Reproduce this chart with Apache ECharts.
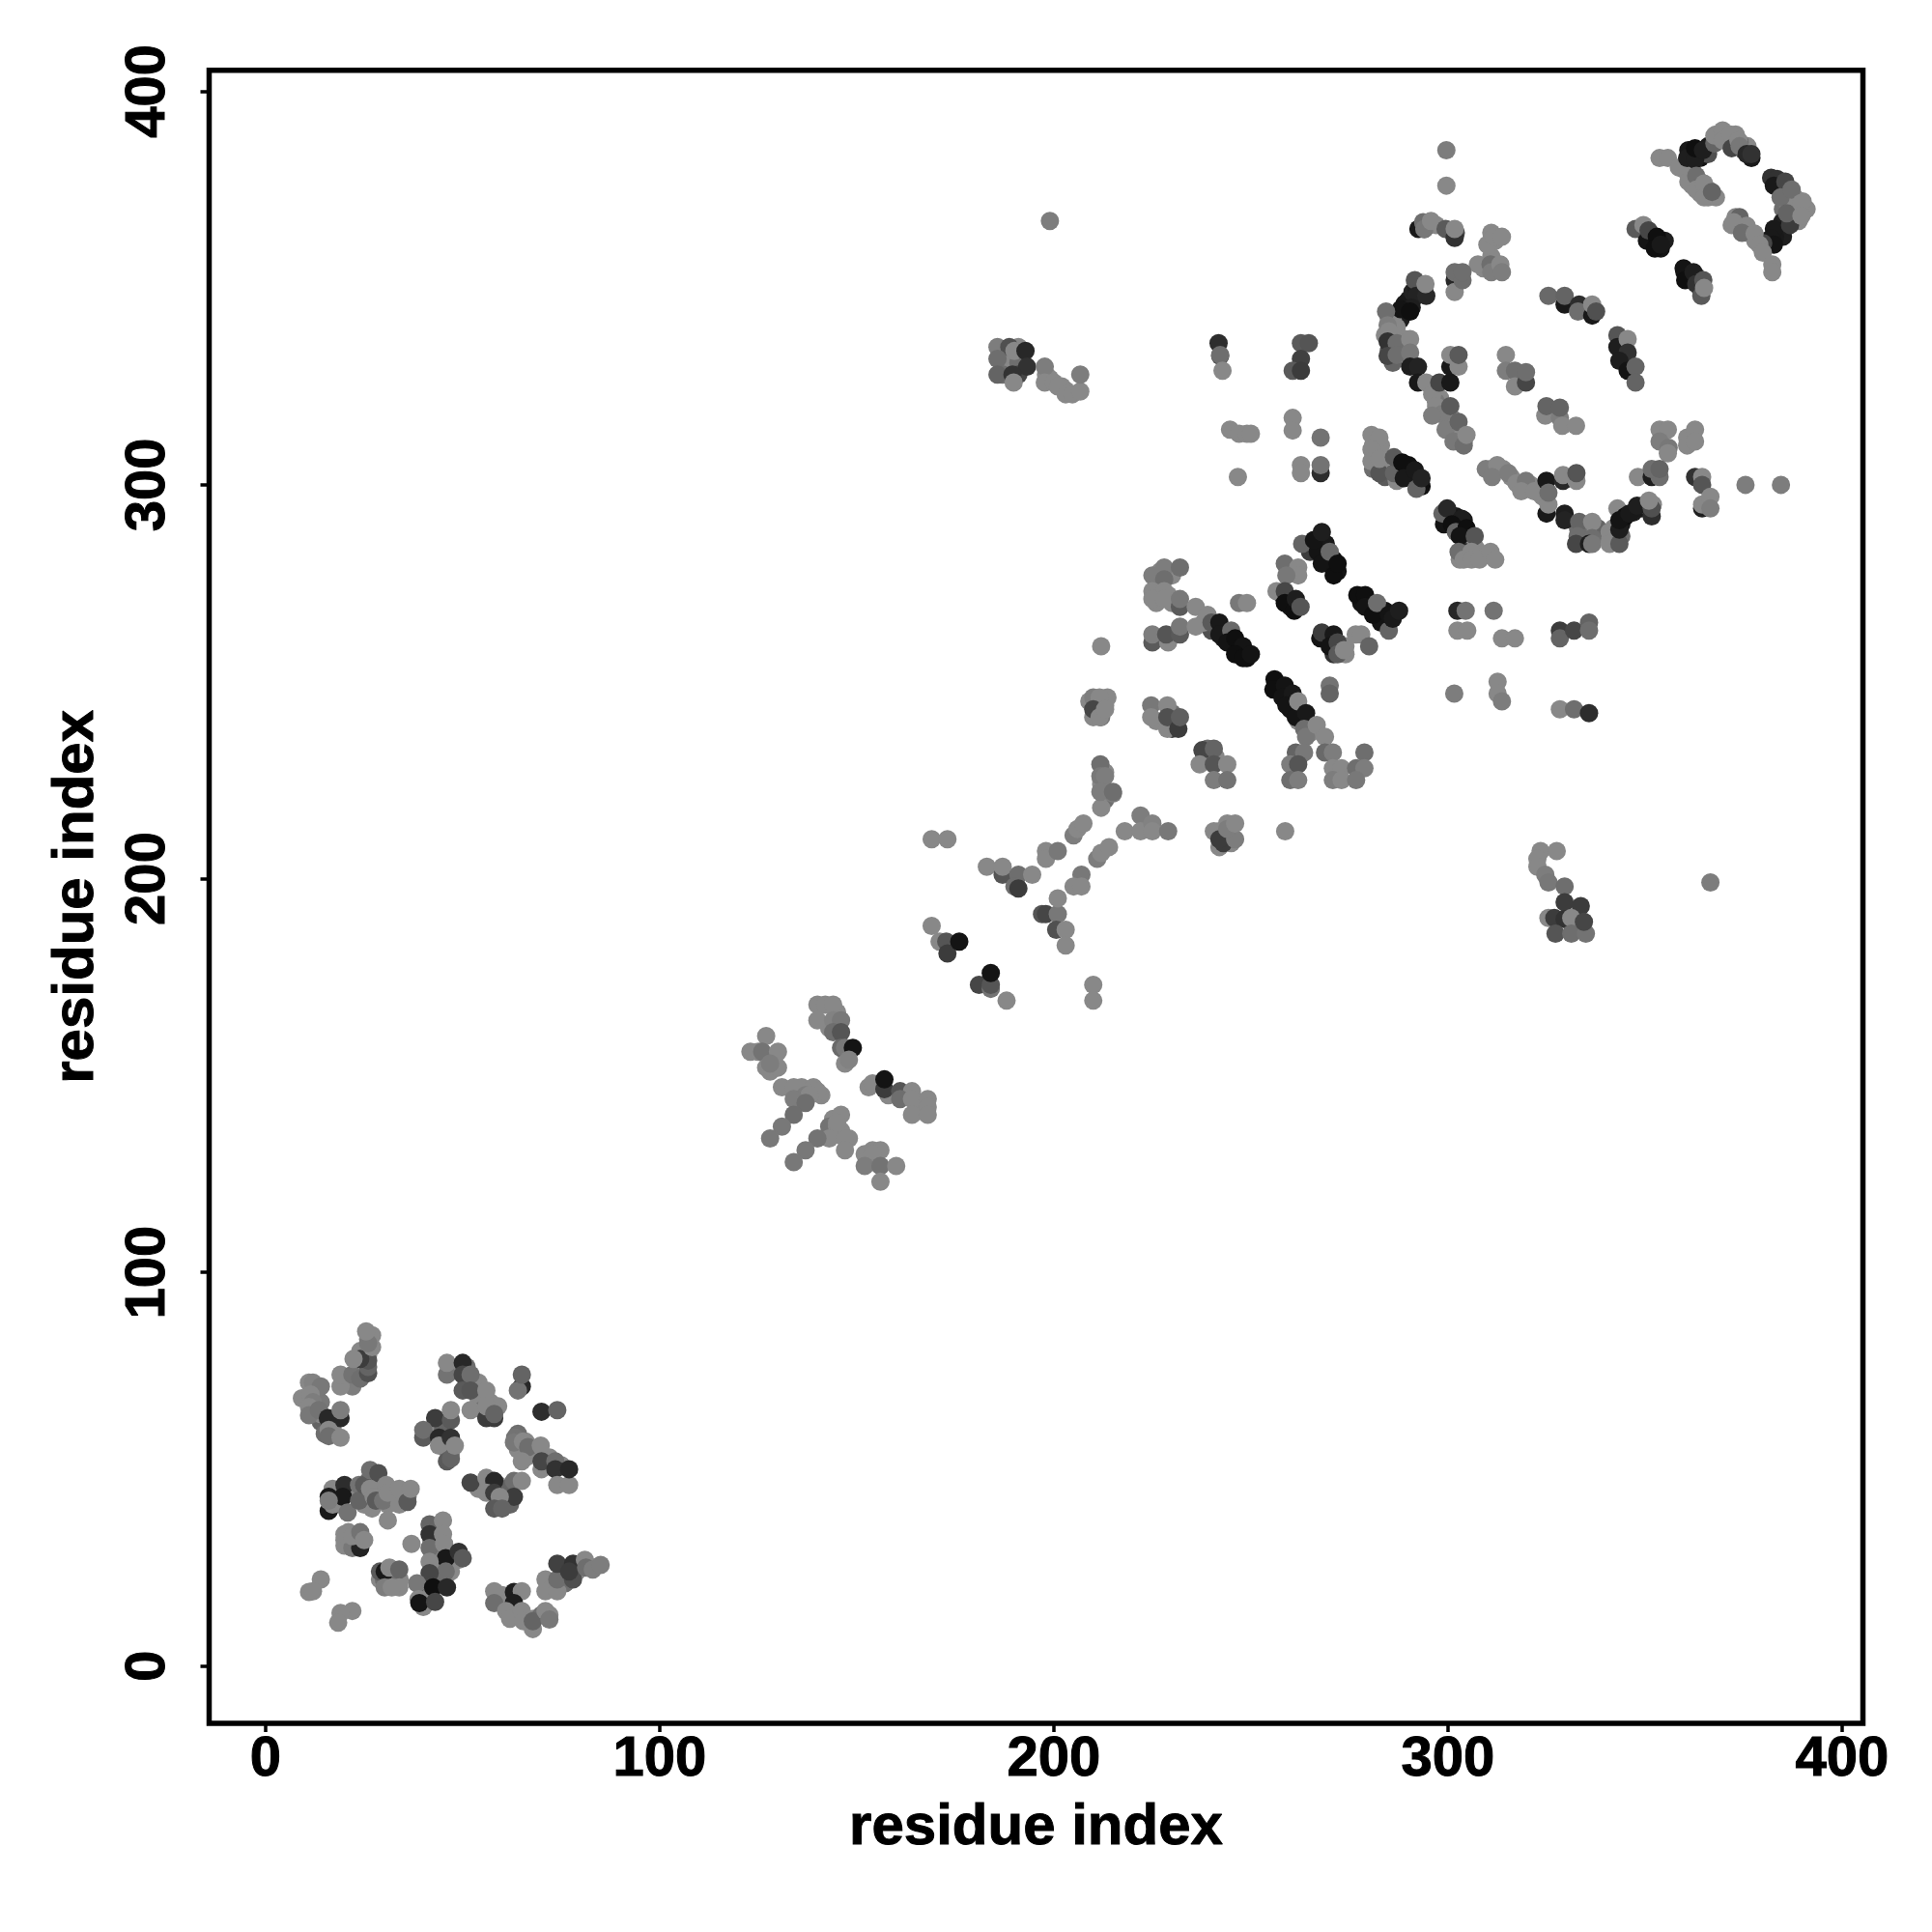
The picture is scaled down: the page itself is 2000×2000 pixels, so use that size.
<!DOCTYPE html>
<html><head><meta charset="utf-8"><style>html,body{margin:0;background:#fff}#c{width:2000px;height:2000px}</style>
<script src="https://cdn.jsdelivr.net/npm/echarts@6/dist/echarts.min.js"></script></head><body><div id="c"></div>
<script>
const tickValues=[0,100,200,300,400];
const xTitle='residue index', yTitle='residue index';
const L=136;
// each contact: [residue i, residue j, grey level]
const clusterUnderLow=[
[26,79,L],[26,83,L],[27,84,L],[24,80,L],[12,70,L],[13,68,L],[14,67,120],[14,62,100],[15,59,110],[17,60,L],[12,64,110],[14,64,L],
[17,45,L],[18,41,L],[22,44,L],[24,44,L],[26,47,110],[28,46,L],[29,44,L],[32,42,L],[35,43,L],[25,41,L],[27,40,L],[31,41,L],[36,43,110],
[20,32,L],[21,34,L],[23,31,L],[22,32,L],[24,32,L],[29,22,L],[31,21,L],[33,22,L],[30,22,110],[32,24,L],[34,22,L],[29,24,90],[32,23,110],
[42,32,L],[44,32,L],[43,28,L],[45,29,L],[47,28,90],[49,27,L],[42,22,L],[44,25,L],[47,24,L],[40,18,90],[42,18,L],[43,22,110],[40,15,L],
[48,75,L],[51,76,110],[51,72,90],[54,72,L],[54,68,L],[55,65,100],[57,65,L],[57,67,L],[59,66,L],[42,60,L],[45,60,100],[45,57,L],[47,54,L],[46,55,100],
[64,55,L],[66,53,L],[68,55,L],[72,53,L],[72,51,110],[75,51,L],[70,50,L],[66,57,L],[64,59,110],[54,45,L],[57,45,L],[60,42,L],[62,41,100],[59,46,L],[61,45,100],[56,47,L],
[60,16,L],[62,15,L],[64,13,L],[66,12,L],[68,12,L],[70,13,110],[60,18,L],[72,13,L],[72,21,L],[73,20,L],[76,23,90],[76,21,110],[79,24,L],[80,26,110],[83,25,L]];
const clusterUnderMid=[
[145,166,L],[143,162,L],[135,146,L],[136,147,L],[139,147,L],[141,145,L],[136,144,L],[144,139,L],[146,136,L],[148,134,L],[145,135,L],[125,156,L],[129,154,L],[128,151,L],[155,128,L],[154,128,L],[154,131,L],[153,129,L],[158,145,L],[166,143,L],[166,141,L],
[226,275,L],[226,272,L],[227,278,L],[230,277,L],[229,272,L],[230,270,L],[226,270,L],[241,264,25],[243,263,20],[245,260,15],[247,259,20],[249,256,15],[247,258,25],[243,261,30],[240,263,80],[238,265,L],
[257,249,15],[259,247,15],[261,245,30],[262,243,25],[260,243,20],[262,240,L],[264,239,L],[265,237,L],[263,240,110],[270,280,30],[269,282,25],[271,281,15],[265,283,60],[272,278,20],[269,285,25],
[278,270,20],[280,270,25],[283,268,30],[284,266,15],[283,265,20],[284,268,20],[269,261,25],[270,261,20],[273,259,40],[274,257,L],[271,257,50],[274,259,L],[259,271,20],[260,269,30],[258,272,30],[261,270,90],
[212,243,L],[212,245,L],[209,245,L],[210,241,L],[213,244,L],[212,241,120],[212,224,L],[213,227,L],[213,220,110],[230,240,90],[231,240,60],[230,238,60],[226,240,L],[230,242,110],[238,232,70],[239,233,110],[241,231,L],
[242,212,L],[243,211,110],[244,210,80],[244,214,L],[245,211,L],[242,208,L],[245,209,L],[243,209,60],[187,334,L],[187,331,110],[189,331,L],[191,331,110],[191,328,70],[187,328,110],[191,335,L],[198,328,L],[199,327,L],[203,324,L],[202,325,L]];
const clusterUnderRing=[
[288,342,30],[290,347,30],[289,346,25],[291,349,35],[293,350,40],[286,342,L],[285,342,L],[286,338,L],[287,340,L],[286,334,L],[288,335,110],[289,337,L],[284,338,L],[285,334,80],[286,331,100],
[298,322,L],[300,319,L],[301,317,L],[302,315,110],[303,313,L],[303,311,L],[304,311,L],[298,318,L],[300,315,L],[297,321,120],
[311,304,L],[314,304,L],[316,302,L],[318,300,L],[320,299,L],[321,300,L],[323,298,L],[324,297,L],
[343,294,L],[344,290,25],[345,292,15],[347,293,30],[349,294,25],[350,295,L],[342,289,L],[344,287,110],[340,287,L],[338,287,L],[334,286,L],[338,289,100],[335,288,L],[333,289,110],[352,295,L],
[281,310,L],[281,308,L],[283,310,L],[281,304,110],[283,304,L],[284,302,90],[289,304,20],[290,303,25],[292,302,25],[290,305,15],
[299,290,20],[302,292,25],[304,291,25],[305,287,15],[305,284,L],[309,282,L],[303,281,L],[307,284,L],[304,283,40],[299,293,100],
[361,381,90],[363,384,15],[361,385,25],[364,383,20],[366,386,25],[366,384,80],[368,389,L],[370,388,L],[372,388,L],[373,389,L],[375,385,80],[376,385,45],[377,383,25],[376,386,L],[374,387,110],
[362,379,L],[364,377,L],[366,375,L],[362,376,L],[364,374,L],[366,373,L],[368,373,L],[362,381,L],[360,380,L],
[382,378,50],[384,376,30],[386,375,40],[388,373,L],[388,371,L],[390,369,L],[391,370,L],[389,367,L],[390,372,L],[385,370,110],[386,372,L],
[384,365,25],[385,363,30],[383,363,25],[381,362,40],[379,362,60],[386,368,60],[388,368,L],[378,362,L],[376,364,L],[374,366,L],[373,368,L],[372,366,L],
[349,365,90],[351,363,25],[353,361,15],[354,360,20],[355,362,30],[360,354,20],[361,353,25],[363,353,60],[364,350,50],
[293,349,25],[292,350,30],[294,349,35],[311,358,L],[312,355,L],[309,355,L],[312,362,L],[311,364,L],[294,365,30],[297,366,L],[302,364,70],[303,353,110],[302,353,90],[287,301,L]];
const clusterLow=[
[20,30.6,L],[22,30,120],[24,30,35],[20,33.5,L],[22,33,L],[24,34,115],[25,32,L],
[22,71,125],[19,71,L],[19,74,L],[22,74,115],[24,73,110],[26,74.4,80],[26,76,100],[26,77.6,85],[24,78,60],[22.3,78,L],[27,81,L],[26,82,120],[25.5,85,L],
[9.2,68,L],[11,72,L],[12,72,130],[14,71,120],[11.4,69,L],[12,67,125],[11,65.8,L],[11,63.7,120],[13.5,65,115],[15.8,63,40],[19,63,40],[19,65,125],[16,60,L],[16,58.4,110],[19,58,L],
[16,43,25],[16,39.4,25],[17,41,L],[20,46,45],[19.6,43,25],[20.8,39,115],[16,42,125],[23.7,46,115],[23.7,42,100],[25,46,90],[26.5,49.8,110],[28.6,49,80],[26.5,45,L],[27.4,43,L],[28,42,90],[30.6,46,L],[29.8,42,115],[31,44,L],[33.9,41,L],[33.9,45,L],[36,41.7,90],[36.8,45,L],
[46,74,115],[46,77,L],[50,77,40],[50,74,70],[52,74,110],[50,70,90],[52,70,85],[56,70,L],[52,65,L],[56,63,60],[58,63,60],[56,66,L],[58,64,100],
[65,71,40],[64,70,115],[65,74,100],[70,64.6,45],[74,65,100],
[43,63,60],[47,62.5,90],[47,65,L],[40,58,90],[40,60,110],[44,58,40],[44,56,L],[47,58,50],[46,52,90],[47,52.7,100],[48,56,L],
[63.3,58,115],[63,56.8,120],[65.3,57,L],[66.6,55.6,110],[69.8,56,L],[65,52,L],[70,52,70],[73.5,52,110],[73.5,50,50],[74,46,L],[77,46,L],[77,50,40],
[52,46.6,70],[56,47.8,L],[58,47,40],[63,47,110],[65,47,L],[56,44,L],[58,44,60],[63,43,60],[59.4,43,L],[58,40,90],[60,40,100],
[31,37,L],[37,31,L],
[41.6,36,100],[45,37,L],[41.6,33.5,50],[45,33.5,L],[41.6,30,110],[45.3,31,L],[45.7,27.4,25],[49,29,50],[50,27.4,90],[41.6,26.5,L],[45.7,24,110],[41.6,23.6,70],[38.4,21,120],[42.5,20,15],[46,20,40],[38.8,17,L],[39,16,20],[43,16.3,70],
[30.2,24,25],[31.4,25,L],[33.9,24.5,100],[30.2,20,125],[33.9,20,L],[32,20,L],
[14,22,L],[11,18.8,L],[12,19,L],[22,14,L],[19,13.5,L],[18.4,11,L],
[58,19,L],[58,16,110],[63,18.8,30],[65,19,L],[63,16,30],[61,14,L],[62,12,L],[67.8,9.4,L],[65,14,L],[65.4,11.4,L],[67.8,11.4,100],[71,14,L],[72,11.8,120],
[71,22,L],[71,19,L],[74,19,L],[74,22,110],[74,26,65],[78,26,50],[78,22,80],[77,24,60],[81,27,L],[81.3,25,110],[83,24.5,125],[85,25.7,125]];
const clusterMid=[
[140,168,L],[142,168,L],[144,168,L],[140,164,L],[144,164,130],[146,164,120],[144,161,110],[146,161,85],[146,157,105],[147,157,120],[149,157,20],[147,153,L],[148,154,130],
[127,160,L],[123,156,L],[126,156,115],[130,156,L],[127,152,L],[130,152,L],[128,153,125],
[131,147,L],[134,147,L],[137,145,125],[140,146,L],[138,145,L],[134,144,125],[137,143,110],[134,140,110],[131,137,120],[128,134,120],
[146,140,L],[143,137,115],[145,137,L],[143,134,L],[147,134,L],[147,131,L],[140,134,115],[137,131,120],[134,128,120],[145,138,L],
[152,130,L],[156,131,L],[154,130,L],[152,127,125],[156,127,115],[160,127,L],[156,123,L],
[153,147,L],[154,148,L],[157,146.5,60],[157,149,20],[161,146,85],[164,146,L],[161,144,110],[164,144,L],[168,144,L],[168,142,L],[164,140,L],[168,140,L],
[169,210,L],[173,210,L],[183,203,L],[187,201,85],[187,203,L],[191,201,110],[194.5,201,L],[190,198,110],[191,197.5,60],
[198,207,L],[198,205,L],[201,207,120],[205,211,125],[206,212.6,L],[207.5,214,L],
[212,218,L],[212,222,L],[212,225,L],[213,222,L],[215,221.6,125],
[218,212,L],[222,216,125],[222,212,L],[225,214,130],[225,212,L],[229,212,120],
[211,205,125],[212,206.5,L],[214,208,L],[207,201,120],[205,198,L],[207,198,L],
[197,191,85],[198,191,70],[201,191,120],[201,195,L],[200.6,187,80],[203,187,L],[203,183,L],
[169,188,L],[171,184,L],[172.7,184,85],[173,181,60],[176,184,20],
[181,173,70],[184,172,115],[184,173,85],[184,176,20],[188,169,L],[210,173,L],[210,169,L],[199,367,125]];
const clusterDiagonal=[
[225,277,125],[228,279,125],[232,279,110],[228,276,110],[225,273,L],[228,273,L],[225,271,L],[228,271,L],[232,269,90],[232,271,120],
[225,260,90],[225,262,125],[229,260,L],[228.5,262,85],[232,262,90],[232,264,120],
[236,269,L],[239,267,L],[236,264,L],[247,270,120],[249,270,L],[212,259,L],
[240,265,90],[242,265,25],[242,262,25],[245,263,105],[244,260,20],[246,261,15],[248,259,20],[246,257,15],[248,256,15],[250,257,20],
[258.6,280,110],[262,279,L],[262,277,L],[259,277,120],[263,285,100],[267,283,20],[266,286,20],[268,288,30],[268,280,20],[270,283,105],[271,277,15],[272,280,15],
[256.5,273,L],[258.6,273,70],[258.6,270,15],[261,268,15],[261.4,271,30],[262.6,269,85],
[277,272,15],[279,272,15],[279,269,20],[281,267,15],[282,270,110],[285,263,100],[285,267,20],[286,266,25],[287.6,268,30],
[267.6,261,20],[268,262.5,60],[271,262,25],[270,259,20],[272,260,70],[272,257,90],[273.6,258,L],[276.6,262,L],[278,262,L],[280,259,100],
[256,250.6,15],[255.7,248,15],[258.6,249,20],[258,246,20],[260.6,247,25],[259,244,20],[261.4,241,20],[262,245,L],[264,242,25],[263.5,238,110],[264,236,120],[266.7,239,L],[268.8,236,L],
[270,249,115],[270,247,100],
[261.4,232,100],[263.5,232,120],[260,229,125],[262,229,85],[260,225,110],[262,225,125],
[268.8,232,105],[270.8,232,125],[278.8,232,110],[270.8,228,L],[273,228,L],[276.7,228,110],[278.8,228,125],[270.8,225,125],[273,225,L],[276.7,225,120],
[237.7,232.6,70],[240.6,233,100],[237,229,L],[240.6,229,85],[244,229,L],[240.6,225,125],[244,225,115],
[211.8,229,110],[211.8,226,120],[213,226,125],[211.8,222,125],[215,222,110],
[210,246,125],[213.6,246,L],[211.6,246,L],[210,243,70],[211.6,241,L],[213,243,L],
[224.7,244,120],[228.8,244,L],[224.7,241,L],[228.8,238,L],[228.8,241,80],[231.6,238,60],[232,241,95],
[240.6,212,L],[242,210,60],[246,210,125],[244,212.6,125],[246,214,L],[258.7,212,L],
[185.7,335,125],[188.7,335,80],[185.7,332,110],[185.7,328,100],[190,334,L],[192.8,334,40],[193.2,330,50],[189.5,328,50],[189.8,326,L],[197.7,330,125],[197.7,326,L],[200,326,L],[201,325,L],[203,323,L],[204.7,323,L],[206.7,323.7,L],[206.7,328,125],
[241.8,336,45],[242.2,332.7,80],[242.2,333,110],[242.8,329,L],
[262.7,336,90],[264.7,336,85],[262.7,332,65],[260.6,329,90],[262.7,329,60],
[244.7,314,L],[247,313,L],[249,313,L],[250,313,L],[260.6,317,L],[260.6,313.8,L],
[267.7,312,115],[267.7,303,45],[267.7,305,115],[262.7,305,L],[262.7,303,L],[246.7,302,L]];
const clusterRing=[
[299.6,385,125],[299.6,376,L],[292.5,365,25],[293.7,366.7,110],[294,365,120],[295.7,367,L],[299.4,365,90],[301.7,362.7,50],[301.7,365,L],
[310,361,L],[311.6,363,L],[313.7,363,L],[307.6,356,L],[310.8,356,110],[311,354,125],[313.3,356,L],[313.7,354,125],
[301.7,352,40],[301.7,349,L],[301.7,354,110],[303.7,352,110],[303.7,354,110],
[291.6,352,85],[292,348,35],[294.5,348,40],[294.3,351,L],[290.8,345,30],[288,344.6,20],[290.4,344,15],[284.3,344,110],[284.7,340.5,125],[285,339,L],[284.7,336.4,50],[287,336,110],[290.4,337,L],[284.7,332.7,70],[287,333,110],[290.4,333.6,120],
[290.4,330,30],[292.4,330,35],[292.4,326,25],[294.5,326,L],[296,323,L],[297.8,326,70],[300.6,326,25],[300.6,330,25],[300.6,333,L],[302.7,330,L],[302.7,333,90],
[297,320,L],[298.6,318,125],[296,317.6,125],[300.6,320,90],[299.4,314,125],[302.7,316,100],[301.4,311,120],[304,310,110],[304.7,312.7,L],
[314.7,333,L],[314.7,329,125],[317,329,110],[317,325,L],[319.8,326,70],[319.8,328.6,110],
[324.7,317.6,L],[325,320,100],[328.4,317,125],[328.4,319.6,100],[329,315,L],[332.5,315,L],
[325.5,348,105],[329.6,345.8,25],[329.6,348,100],[333.3,345.8,45],[333,344,110],[336.6,343,25],[336.6,345.8,L],[337.6,344,80],
[343,338,85],[343,335,30],[345.6,337,L],[345.6,333.6,50],[343.5,331.5,30],[345.6,329,20],[347.6,330,100],[347.6,326,100],
[353.7,314,L],[355.8,314,L],[353.7,311,125],[356,309.4,120],[355.8,308,L],[360.7,312,L],[362.7,314,L],[360.7,310,L],[362.7,311,L],
[348.2,302,L],[351.7,302,30],[353.7,302,110],[351.7,304,110],[353.7,304,100],
[362.7,302,50],[364.5,302,L],[364.5,300,85],[364.5,294,30],[364.5,295,L],[366.6,297,L],[366.6,294,125],[375.5,300,125],[384.5,300,125],
[309.6,304,125],[312.5,305,L],[311.2,302,125],[315.3,303,125],[317.4,300.4,L],[319.8,301,120],[318.6,298.4,L],[321.9,298.4,L],[325,292.7,25],[325.5,295,L],[325,301,25],[325.5,298,110],[329.2,301,40],[329.2,302.5,L],[332.6,301,L],[332.6,303,85],
[329.6,292.7,30],[329.6,291,35],[333.3,290.6,100],[336.6,290.6,L],[332.9,287,110],[336.6,286.5,110],[332.5,285,70],[335.8,285,30],[336.6,285,120],[341,288,L],[341,285,L],[343.5,285,90],
[343.5,288.6,30],[343.5,291,20],[346,292.7,25],[348,294.7,30],[351.7,292,45],[351.7,294,80],[351,296,L],
[298.6,292.7,100],[299.8,294,40],[303.5,291.4,30],[301,290,15],[302,288,100],[304.7,289,15],[303,287,20],[306.8,287,85],
[302.7,283,110],[304,281,L],[306,283,L],[306,281,L],[308,281,L],[310.8,283,L],[312,281,L],
[280.6,312.7,L],[282.6,312,L],[280.6,309,L],[280.6,306,L],[282.6,303,85],[282.6,306.6,L],[286.3,303,100],[286.3,307,90],[288.4,305.7,15],[288.8,301.7,25],[291.6,303.7,25],[293.3,299.6,15],[292,299,100],[293.3,301.7,35],
[353.7,383,L],[355.8,383,L],[358.6,380.6,L],[360.7,383,30],[362.7,382.6,30],[362.7,385.5,15],[364.7,385,30],[367.6,386.7,100],[367.6,388.7,L],[369.7,390,L],[369.7,387.5,L],[371.7,389,L],[372,385.5,70],[373.7,387.5,L],[374,386,120],[375.8,384,40],[377,384,50],
[361,377,L],[363,378.5,110],[363,375,L],[365,376.5,L],[365,373,L],[367,374.4,100],
[383.5,377.7,50],[382.7,376,25],[385.6,377,70],[384.4,373,110],[387.2,375,110],[384.8,366.7,30],[382.7,365,25],[382,362.6,25],[382.7,361,20],[386.8,366,60],[386,369,100],[389.7,371.6,L],[389.7,368.3,L],[380,361.4,70],
[374,368,100],[372.5,366.7,L],[375.8,365.8,L],[374.6,364,110],[377.8,363.8,L],[379,361,L],[379.9,359,L],[382.3,356,L],[382.3,354,L],
[347.6,365,90],[349.6,366,L],[350.5,362,20],[350.9,364.6,70],[353,363,15],[352.5,360,15],[354,361,25],
[359.8,355,20],[360.2,352,15],[362.3,354,30],[363,351,50],[364.3,348,90],[364.8,352,85],[365,350,L],
[302.4,268,40],[304.5,268,115],[302.4,263,L],[304.9,263,L],[311.6,268,115],[313.7,261,L],[317,261,L],
[328.4,263,60],[328.4,261,100],[332,263,70],[335.8,265,100],[335.8,263,110],
[301.6,247,125],[312.6,250,L],[312.6,247,L],[313.7,245,125],[328.4,243,L],[332,243,110],[335.8,242,45],
[323.5,207,L],[327.6,207,L],[322.7,205,L],[322.7,203,L],[324.7,201,125],[325.5,199,120],[329.6,198,110],
[329.6,194,60],[333.7,193,60],[325.5,190,L],[327,190,60],[329.6,189.7,50],[331.3,190,L],[327.3,186,85],[331.3,186,110],[335,186,115],[334.5,189,70],[366.6,199,125]];

const clusters=[clusterUnderLow,clusterUnderMid,clusterUnderRing,clusterLow,clusterMid,clusterDiagonal,clusterRing];
const grey=g=>`rgb(${g},${g},${g})`;
const chart=echarts.init(document.getElementById('c'),null,{renderer:'canvas'});
const font={fontFamily:'"Liberation Sans",Arial,sans-serif',fontWeight:'bold',color:'#000',textBorderColor:'#000',textBorderWidth:1};
const axisCommon={type:'value',splitLine:{show:false},axisLine:{show:false,onZero:false},
  axisTick:{show:true,length:9,inside:false,customValues:tickValues,lineStyle:{color:'#000',width:3.5}}};
chart.setOption({animation:false,backgroundColor:'#fff',
 grid:{left:216.5,right:71.5,top:72.7,bottom:216,show:true,borderColor:'#000',borderWidth:5.5,backgroundColor:'#fff'},
 xAxis:{...axisCommon,min:-14.34,max:405.3,
   axisLabel:{...font,fontSize:58,margin:9,customValues:tickValues,showMinLabel:true,showMaxLabel:true},
   name:xTitle,nameLocation:'middle',nameGap:108,nameMoveOverlap:false,nameTextStyle:{...font,fontSize:60,verticalAlign:'middle'}},
 yAxis:{...axisCommon,min:-14.55,max:405.3,
   axisLabel:{...font,fontSize:58,margin:63,rotate:90,customValues:tickValues,showMinLabel:true,showMaxLabel:true,align:'center',verticalAlign:'middle'},
   name:yTitle,nameLocation:'middle',nameGap:137,nameRotate:90,nameMoveOverlap:false,nameTextStyle:{...font,fontSize:60,verticalAlign:'middle'}},
 series:clusters.map(c=>({type:'scatter',data:c,symbol:'circle',symbolSize:19,silent:true,clip:false,
   itemStyle:{opacity:1,color:p=>grey(p.value[2])}}))
});
</script></body></html>
